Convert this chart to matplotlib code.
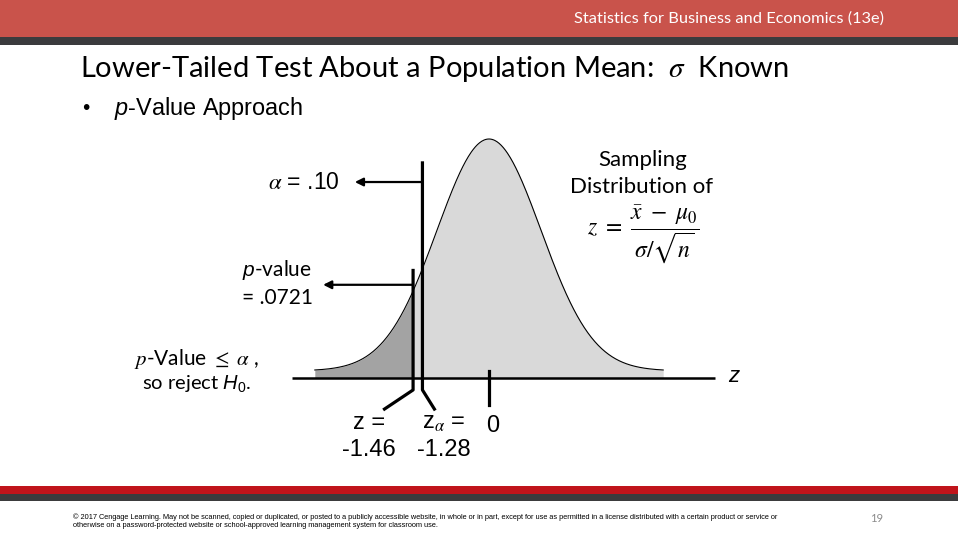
import matplotlib
matplotlib.use("Agg")
import matplotlib.pyplot as plt
import numpy as np

plt.rcParams['mathtext.fontset'] = 'custom'
plt.rcParams['mathtext.rm'] = 'Liberation Sans'
plt.rcParams['mathtext.it'] = 'Liberation Sans:italic'

# values shown on the slide
alpha = 0.10
p_value = 0.0721
z_alpha = -1.28
z_stat = -1.46
z_zero = 0.0
z_range = (-3.35, 3.35)

title = 'Lower-Tailed Test About a Population Mean:  $\\sigma$  Known'
header = 'Statistics for Business and Economics (13e)'
footer = ('\u00a9 2017 Cengage Learning. May not be scanned, copied or duplicated, or posted to a publicly '
          'accessible website, in whole or in part, except for use as permitted in a license distributed '
          'with a certain product or service or\notherwise on a password-protected website or '
          'school-approved learning management system for classroom use.')
page = '19'

W, H = 958, 540
CAL = ['Lato', 'DejaVu Sans']
ARI = ['Liberation Sans', 'DejaVu Sans']

fig = plt.figure(figsize=(W / 100, H / 100), dpi=100)
bg = fig.add_axes([0, 0, 1, 1])
bg.set_xlim(0, W)
bg.set_ylim(H, 0)
bg.axis('off')

# header / footer bands
bg.axhspan(0, 37, color='#c9534b', lw=0)
bg.axhspan(37, 45, color='#3b3b3d', lw=0)
bg.axhspan(486, 494, color='#c0141b', lw=0)
bg.axhspan(494, 501, color='#3b3b3d', lw=0)
bg.text(884, 19, header, color='white', fontsize=11.8, family=CAL, ha='right', va='center')
bg.text(80, 69, title, fontsize=21, family=CAL, ha='left', va='center', math_fontfamily='stix')
bg.text(82, 109, '\u2022', fontsize=15, family=ARI, ha='left', va='center')
bg.text(114, 109, '$\\it{p}$-Value Approach', fontsize=16.9, family=ARI, ha='left', va='center',
        math_fontfamily='custom')
bg.text(73, 521, footer, fontsize=5.3, family=['Liberation Sans Narrow'] + ARI, ha='left',
        va='center', linespacing=1.3)
bg.text(877, 519, page, fontsize=8, color='#8c8c8c', family=CAL, ha='center', va='center')

# curve axes: z=0 at x=489px, 52px per unit, baseline at y=378px, peak 239px tall
x0, sx, base, sy = 489, 52, 378, 239
zl, zr, yb, yt = -4.5, 4.5, -0.3, 1.2
left_px = x0 + zl * sx
top_px = base - yt * sy
bot_px = base - yb * sy
ax = fig.add_axes([left_px / W, (H - bot_px) / H, (zr - zl) * sx / W, (bot_px - top_px) / H])
ax.set_xlim(zl, zr)
ax.set_ylim(yb, yt)
ax.axis('off')
ax.patch.set_visible(False)

z = np.linspace(z_range[0], z_range[1], 500)
dens = 0.03 + 0.97 * np.exp(-z ** 2 / 2)
ax.fill_between(z, 0, dens, where=z <= z_stat, color='#a3a3a3', lw=0, interpolate=True)
ax.fill_between(z, 0, dens, where=z >= z_stat, color='#d9d9d9', lw=0, interpolate=True)
ax.plot(z, dens, color='black', lw=0.8)

# horizontal axis
ax.plot([-3.79, 4.35], [0, 0], color='black', lw=1.8, solid_capstyle='butt')
ax.text(4.7, 0.005, 'z', fontsize=16, family=ARI, style='italic', ha='center', va='center')

# critical value line and p-value line with bent leaders
ax.plot([z_alpha, z_alpha, z_alpha + 0.23], [0.90, -0.05, -0.13], color='black', lw=2.3, clip_on=False)
ax.plot([z_stat, z_stat, z_stat - 0.55], [0.45, -0.05, -0.13], color='black', lw=2.3, clip_on=False)
ax.plot([z_zero, z_zero], [0.03, -0.115], color='black', lw=2.3, clip_on=False)

# arrows to labels
ax.annotate('', xy=(-2.58, 0.82), xytext=(z_alpha, 0.82),
            arrowprops=dict(arrowstyle='-|>', color='black', lw=1.6, mutation_scale=12, shrinkA=0, shrinkB=0))
ax.annotate('', xy=(-3.19, 0.39), xytext=(z_stat, 0.39),
            arrowprops=dict(arrowstyle='-|>', color='black', lw=1.6, mutation_scale=12, shrinkA=0, shrinkB=0))

ax.text(-2.87, 0.82, '$\\alpha$ = .%s' % f'{alpha:.2f}'[2:], fontsize=16.5, family=ARI, ha='right',
        va='center', math_fontfamily='stix')
ax.text(-4.75, 0.45, '$\\it{p}$-value', fontsize=15, family=CAL, ha='left', va='center',
        math_fontfamily='custom')
ax.text(-4.75, 0.335, '= .%s' % f'{p_value:.4f}'[2:], fontsize=15, family=CAL, ha='left', va='center')
ax.text(-5.62, 0.08, '$p$-Value $\\leq$ $\\alpha$ ,', fontsize=15, family=CAL,
        ha='center', va='center', math_fontfamily='stix')
ax.text(-5.62, -0.025, 'so reject $\\it{H}_0$.', fontsize=14.5, family=CAL, ha='center', va='center',
        math_fontfamily='custom')

# value labels below the axis
ax.text(z_stat - 0.85, -0.19, 'z =', fontsize=17, family=ARI, ha='center', va='center')
ax.text(z_stat - 0.85, -0.30, f'{z_stat:.2f}', fontsize=17, family=ARI, ha='center', va='center')
ax.text(z_alpha + 0.42, -0.19, 'z$_{\\alpha}$ =', fontsize=17, family=ARI, ha='center', va='center',
        math_fontfamily='stix')
ax.text(z_alpha + 0.42, -0.30, f'{z_alpha:.2f}', fontsize=17, family=ARI, ha='center', va='center')
ax.text(z_zero + 0.08, -0.20, f'{z_zero:.0f}', fontsize=17, family=ARI, ha='center', va='center')

# sampling distribution note
bg.text(643, 160, 'Sampling', fontsize=16, family=CAL, ha='center', va='center')
bg.text(642, 187, 'Distribution of', fontsize=16, family=CAL, ha='center', va='center')
bg.text(643, 234, '$z\\ =\\ \\dfrac{\\bar{x}\\ -\\ \\mu_0}{\\sigma/\\sqrt{n}}$', fontsize=17,
        ha='center', va='center', math_fontfamily='stix')

fig.savefig('out.png', dpi=100)
